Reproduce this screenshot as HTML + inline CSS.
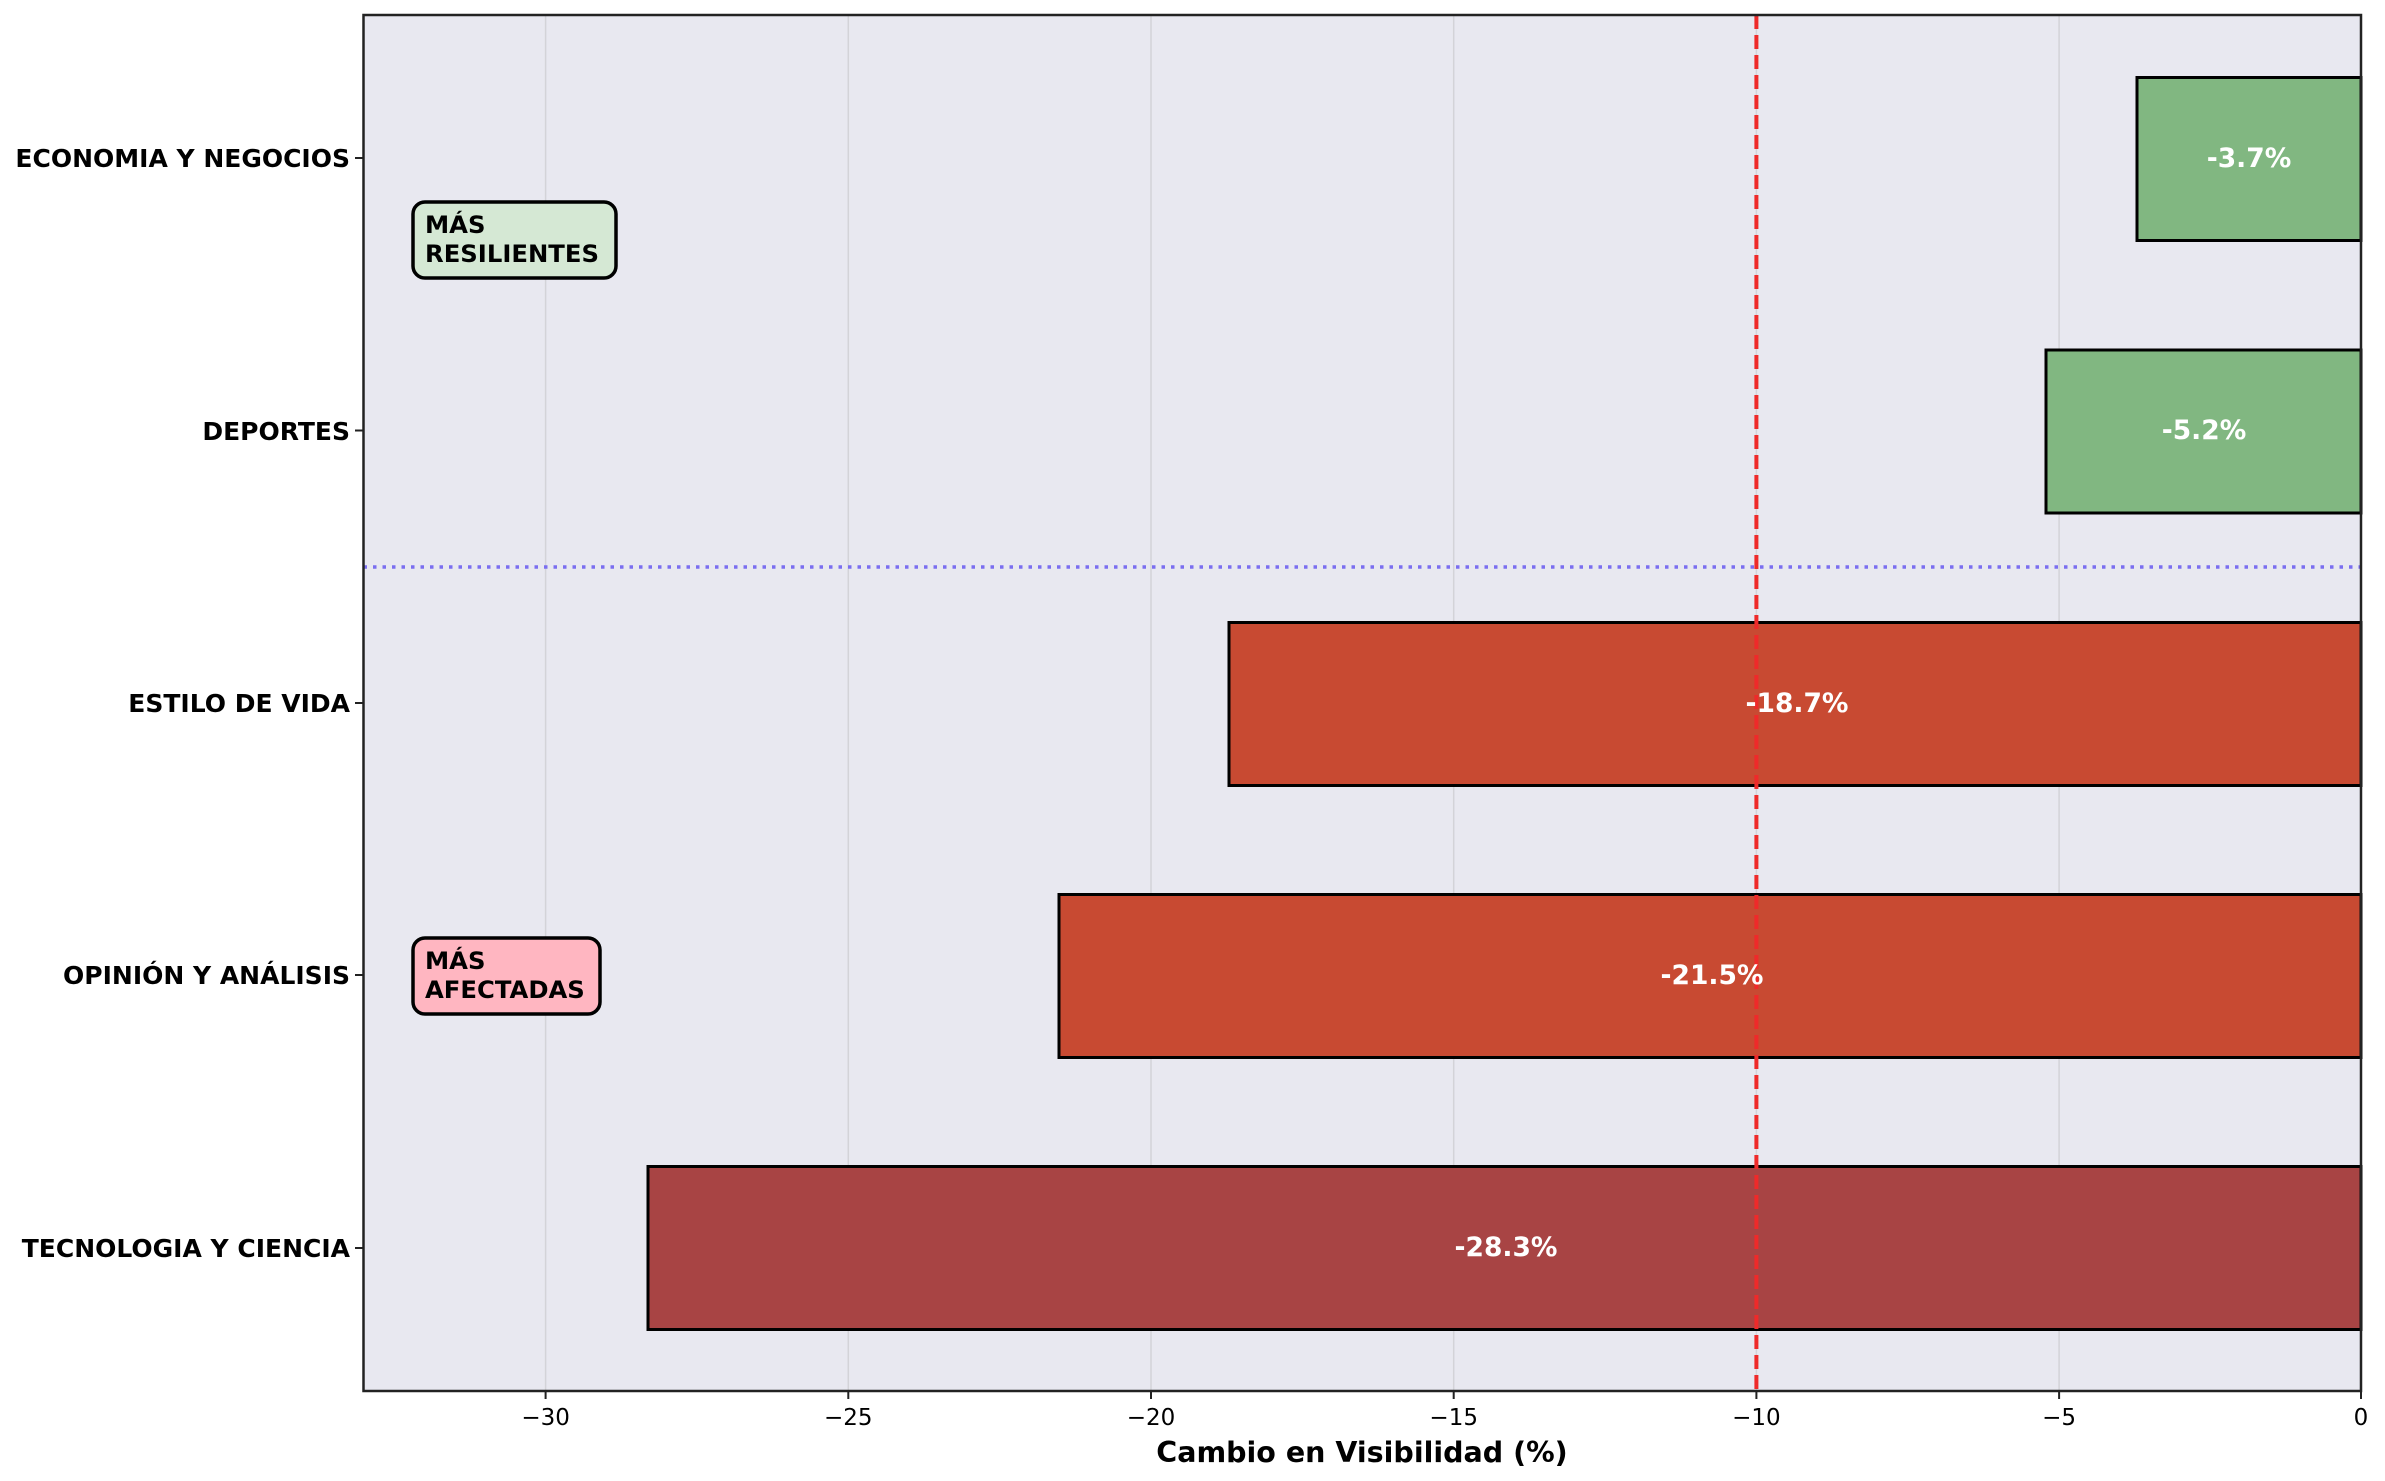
<!DOCTYPE html>
<html><head><meta charset="utf-8"><style>html,body{margin:0;padding:0;background:#fff}svg{display:block}</style></head>
<body>
<svg width="2385" height="1481" viewBox="0 0 2385 1481" xmlns="http://www.w3.org/2000/svg" font-family="'DejaVu Sans','Liberation Sans',sans-serif">
<rect x="0" y="0" width="2385" height="1481" fill="#ffffff"/>
<rect x="363.5" y="15" width="1997.5" height="1376" fill="#e8e8f0"/>
<g stroke="#d3d3d8" stroke-width="1.5">
<line x1="545.6" y1="15" x2="545.6" y2="1391"/>
<line x1="848.3" y1="15" x2="848.3" y2="1391"/>
<line x1="1151" y1="15" x2="1151" y2="1391"/>
<line x1="1453.7" y1="15" x2="1453.7" y2="1391"/>
<line x1="1756.4" y1="15" x2="1756.4" y2="1391"/>
<line x1="2059.1" y1="15" x2="2059.1" y2="1391"/>
</g>
<g stroke="#000" stroke-width="3">
<rect x="2137" y="77.5" width="224" height="163" fill="#81b781"/>
<rect x="2046" y="350" width="315" height="163" fill="#81b781"/>
<rect x="1229" y="622.5" width="1132" height="163" fill="#c84a32"/>
<rect x="1059" y="894.5" width="1302" height="163" fill="#c84a32"/>
<rect x="648" y="1166.5" width="1713" height="163" fill="#a84444"/>
</g>
<line x1="363.5" y1="567" x2="2361" y2="567" stroke="#7a6ef0" stroke-width="3.5" stroke-dasharray="3.5,6"/>
<line x1="1756.4" y1="15" x2="1756.4" y2="1391" stroke="#ee2a2a" stroke-width="4" stroke-dasharray="14,6"/>
<g fill="#fff" font-weight="bold" font-size="26.5" text-anchor="middle">
<text x="2249" y="167">-3.7%</text>
<text x="2204" y="439">-5.2%</text>
<text x="1797" y="712">-18.7%</text>
<text x="1712" y="984">-21.5%</text>
<text x="1506" y="1256">-28.3%</text>
</g>
<rect x="413" y="202" width="203" height="76" rx="12" fill="#d5e8d4" stroke="#000" stroke-width="3.5"/>
<rect x="413" y="938" width="187" height="76" rx="12" fill="#ffb6c1" stroke="#000" stroke-width="3.5"/>
<g font-weight="bold" font-size="24.3" fill="#000">
<text x="425" y="233">MÁS</text><text x="425" y="262">RESILIENTES</text>
<text x="425" y="969">MÁS</text><text x="425" y="998">AFECTADAS</text>
</g>
<rect x="363.5" y="15" width="1997.5" height="1376" fill="none" stroke="#222" stroke-width="2.5"/>
<g stroke="#222" stroke-width="2">
<line x1="355" y1="158" x2="363" y2="158"/><line x1="355" y1="430.5" x2="363" y2="430.5"/>
<line x1="355" y1="703" x2="363" y2="703"/><line x1="355" y1="975" x2="363" y2="975"/>
<line x1="355" y1="1248" x2="363" y2="1248"/>
<line x1="545.6" y1="1391" x2="545.6" y2="1399"/><line x1="848.3" y1="1391" x2="848.3" y2="1399"/>
<line x1="1151" y1="1391" x2="1151" y2="1399"/><line x1="1453.7" y1="1391" x2="1453.7" y2="1399"/>
<line x1="1756.4" y1="1391" x2="1756.4" y2="1399"/><line x1="2059.1" y1="1391" x2="2059.1" y2="1399"/>
<line x1="2361" y1="1391" x2="2361" y2="1399"/>
</g>
<g font-weight="bold" font-size="25" text-anchor="end" fill="#000">
<text x="350" y="167">ECONOMIA Y NEGOCIOS</text>
<text x="350" y="440">DEPORTES</text>
<text x="350" y="712">ESTILO DE VIDA</text>
<text x="350" y="984">OPINIÓN Y ANÁLISIS</text>
<text x="350" y="1257">TECNOLOGIA Y CIENCIA</text>
</g>
<g font-size="23" text-anchor="middle" fill="#000">
<text x="545.6" y="1425">−30</text><text x="848.3" y="1425">−25</text>
<text x="1151" y="1425">−20</text><text x="1453.7" y="1425">−15</text>
<text x="1756.4" y="1425">−10</text><text x="2059.1" y="1425">−5</text>
<text x="2361" y="1425">0</text>
</g>
<text x="1362" y="1462" font-size="28.5" font-weight="bold" text-anchor="middle">Cambio en Visibilidad (%)</text>
</svg>
</body></html>
